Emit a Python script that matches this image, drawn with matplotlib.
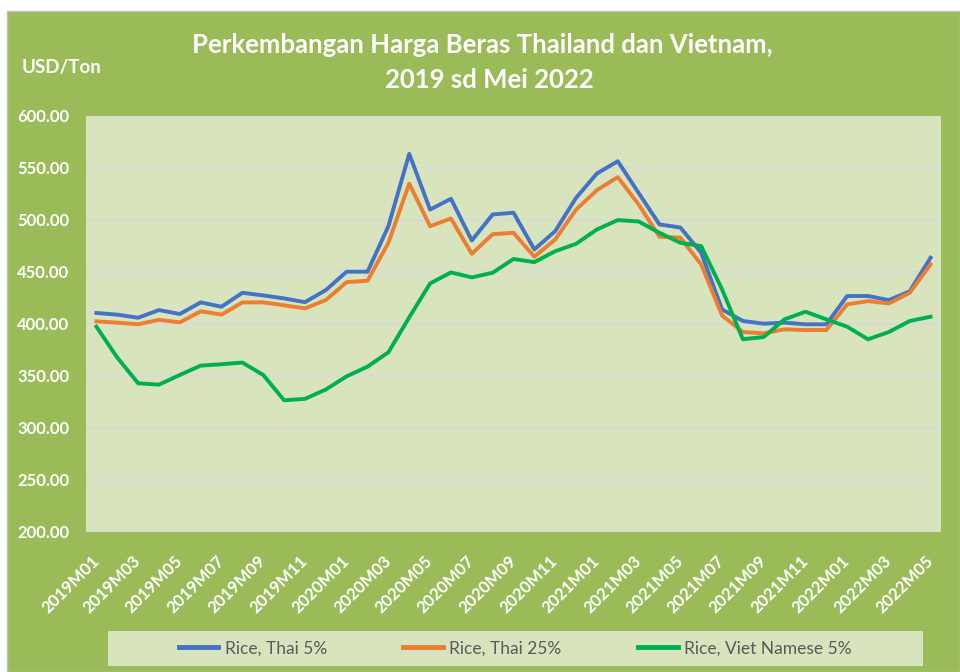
import matplotlib
matplotlib.use("Agg")
import matplotlib.pyplot as plt
from matplotlib.patches import Rectangle
from matplotlib.lines import Line2D

plt.rcParams['font.family'] = ['Lato', 'DejaVu Sans']

# Bulan 2019M01 .. 2022M05
bulan = [f"{y}M{m:02d}" for y in range(2019, 2023) for m in range(1, 13)][:41]

thai_5 = [410.6, 409.0, 406.0, 413.4, 409.6, 420.8, 416.6, 430.0, 427.5, 424.6,
          421.0, 432.6, 450.3, 450.3, 494.0, 563.6, 510.0, 520.4, 480.3, 505.3,
          507.0, 471.7, 489.3, 521.3, 544.7, 556.5, 526.0, 495.7, 492.8, 468.5,
          414.0, 402.9, 400.3, 401.3, 399.7, 399.7, 426.9, 426.9, 423.0, 431.4,
          463.7]
thai_25 = [402.6, 401.3, 399.7, 404.0, 401.6, 412.2, 409.0, 420.8, 420.8, 418.0,
           415.0, 423.0, 440.3, 441.6, 478.0, 535.0, 494.0, 501.5, 467.5, 486.4,
           487.7, 464.7, 481.3, 510.0, 528.7, 541.2, 515.0, 483.9, 483.0, 457.3,
           408.3, 392.3, 391.0, 394.9, 394.2, 394.2, 418.9, 422.0, 419.8, 430.0,
           457.3]
viet_5 = [397.4, 367.7, 343.0, 341.7, 351.0, 360.0, 361.3, 362.9, 351.0, 326.7,
          328.0, 337.0, 349.7, 359.0, 372.8, 406.4, 439.0, 449.6, 444.8, 449.3,
          462.5, 459.5, 470.0, 477.1, 490.9, 499.9, 498.6, 487.7, 478.1, 474.9,
          433.3, 385.3, 387.5, 404.5, 411.8, 404.5, 397.4, 385.3, 392.3, 402.9,
          407.0]

seri = [
    ("Rice, Thai 5%", thai_5, "#4472C4"),
    ("Rice, Thai 25%", thai_25, "#ED7D31"),
    ("Rice, Viet Namese 5%", viet_5, "#00B050"),
]

W, H = 960, 672
fig = plt.figure(figsize=(W / 100, H / 100), dpi=100, facecolor="white")

# Area grafik (hijau zaitun) dengan bingkai abu-abu
fig.patches.append(Rectangle((7 / W, 0), 1 - 7 / W, 1 - 11 / H, transform=fig.transFigure,
                             facecolor="#9BBB59", edgecolor="#BFBFBF", linewidth=1, zorder=-10))

ax = fig.add_axes([86 / W, 1 - 532 / H, (941 - 86) / W, (532 - 116) / H])
ax.set_facecolor("#D7E4BD")

x = list(range(len(bulan)))
for nama, nilai, warna in seri:
    ax.plot(x, nilai, color=warna, linewidth=2.8, label=nama, zorder=3)

ax.set_xlim(-0.5, len(bulan) - 0.5)
ax.set_ylim(200, 600)
ax.set_yticks(range(200, 601, 50))
ax.set_yticklabels([f"{v:.2f}" for v in range(200, 601, 50)])
ax.yaxis.grid(True, color="#D9D9D9", linewidth=1.2, zorder=1)
ax.set_axisbelow(True)

ax.set_xticks(x[::2])
ax.set_xticklabels(bulan[::2], rotation=45, ha="right", va="center", rotation_mode="anchor")

for s in ax.spines.values():
    s.set_visible(False)
ax.tick_params(axis="both", length=0, colors="white")
ax.tick_params(axis="y", pad=12, labelsize=12)
ax.tick_params(axis="x", pad=19, labelsize=12)
for lbl in ax.get_xticklabels() + ax.get_yticklabels():
    lbl.set_fontweight("bold")

fig.text(0.502, 1 - 45 / H, "Perkembangan Harga Beras Thailand dan Vietnam,",
         ha="center", va="center", color="white", fontsize=18.5, fontweight="bold")
fig.text(0.51, 1 - 80 / H, "2019 sd Mei 2022",
         ha="center", va="center", color="white", fontsize=18.5, fontweight="bold")
fig.text(22 / W, 1 - 67 / H, "USD/Ton", ha="left", va="center", color="white",
         fontsize=13.5, fontweight="bold")

# Legenda
fig.patches.append(Rectangle((108 / W, 1 - 666 / H), (923 - 108) / W, 35 / H,
                             transform=fig.transFigure, facecolor="#D7E4BD",
                             edgecolor="none", zorder=-5))
handles = [Line2D([], [], color=w, linewidth=3.5) for _, _, w in seri]
leg = fig.legend(handles, [n for n, _, _ in seri], loc="center",
                 bbox_to_anchor=(515 / W, 1 - 648.5 / H), ncol=3, frameon=False,
                 fontsize=12.5, handlelength=2.3, handletextpad=0.35, columnspacing=4.4)
for t in leg.get_texts():
    t.set_color("#595959")

fig.savefig("out.png", dpi=100, facecolor=fig.get_facecolor())
